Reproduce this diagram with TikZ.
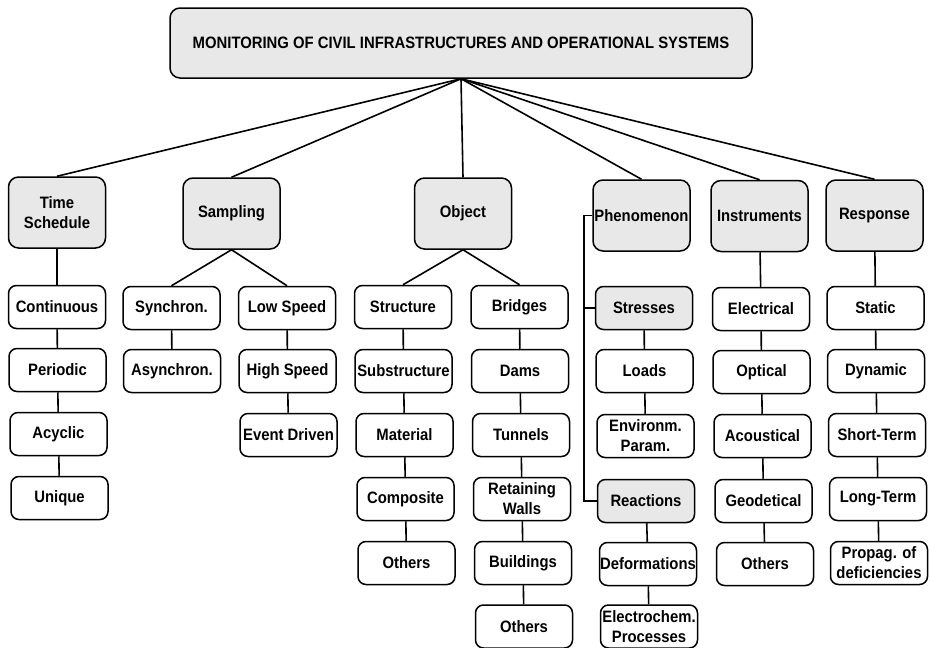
\documentclass[tikz,border=0pt]{standalone}
\usepackage{fontspec}
\setmainfont{Liberation Sans}[FakeStretch=0.9]
\begin{document}
\begin{tikzpicture}[x=1pt,y=-1pt,
  every node/.style={font=\fontsize{16.5}{20}\selectfont\bfseries, align=center, inner sep=0pt},
  leaf/.style={draw, line width=1.5pt, rounded corners=8pt, minimum width=97pt, minimum height=43pt},
  graybox/.style={leaf, fill=boxgray},
  head/.style={draw, line width=1.5pt, fill=boxgray, rounded corners=10pt, minimum width=97pt, minimum height=71pt},
  link/.style={line width=1.6pt}]
\definecolor{boxgray}{RGB}{232,232,232}
\useasboundingbox (0,0) rectangle (930,648);
% root
\node[head, minimum width=582pt, minimum height=70pt] (root) at (461,43) {MONITORING OF CIVIL INFRASTRUCTURES AND OPERATIONAL SYSTEMS};
% heads
\node[head] (time) at (57,212.5) {Time\\Schedule};
\node[head] (samp) at (231.5,213.5) {Sampling};
\node[head] (obj) at (463,213.5) {Object};
\node[head] (phen) at (641.5,215.5) {Phenomenon};
\node[head] (instr) at (759.5,216) {Instruments};
\node[head] (resp) at (874.5,215.5) {Response};
% time schedule
\node[leaf] (cont) at (57,307) {Continuous};
\node[leaf] (peri) at (57.5,370) {Periodic};
\node[leaf] (acyc) at (58.5,434) {Acyclic};
\node[leaf] (uniq) at (59.5,498) {Unique};
% sampling
\node[leaf] (sync) at (171.5,308) {Synchron.};
\node[leaf] (async) at (172,371) {Asynchron.};
\node[leaf] (low) at (287,308) {Low Speed};
\node[leaf] (high) at (287.5,371) {High Speed};
\node[leaf] (event) at (288.5,435) {Event Driven};
% object
\node[leaf] (struc) at (403,307) {Structure};
\node[leaf] (subs) at (403.5,371) {Substructure};
\node[leaf] (mat) at (404.5,435) {Material};
\node[leaf] (comp) at (405.5,499) {Composite};
\node[leaf] (oth1) at (406.5,563) {Others};
\node[leaf] (bridg) at (519.5,307) {Bridges};
\node[leaf] (dams) at (520,371) {Dams};
\node[leaf] (tunn) at (521,435) {Tunnels};
\node[leaf] (retw) at (522,499) {Retaining\\Walls};
\node[leaf] (build) at (523,563) {Buildings};
\node[leaf] (oth2) at (524,626.5) {Others};
% phenomenon
\node[graybox] (stress) at (644,308) {Stresses};
\node[leaf] (loads) at (644.5,371) {Loads};
\node[leaf] (envir) at (645.5,436) {Environm.\\Param.};
\node[graybox] (react) at (646,501) {Reactions};
\node[leaf] (deform) at (648,564) {Deformations};
\node[leaf] (electro) at (649,626.5) {Electrochem.\\Processes};
% instruments
\node[leaf] (elec) at (761,309) {Electrical};
\node[leaf] (opt) at (761.5,372) {Optical};
\node[leaf] (acou) at (762.5,436) {Acoustical};
\node[leaf] (geod) at (763.5,501) {Geodetical};
\node[leaf] (oth3) at (765,564) {Others};
% response
\node[leaf] (stat) at (875.5,308) {Static};
\node[leaf] (dyn) at (876,371) {Dynamic};
\node[leaf] (short) at (877,435) {Short-Term};
\node[leaf] (long) at (878,499) {Long-Term};
\node[leaf] (prop) at (879,563) {Propag. of\\deficiencies};
% root links
\foreach \h in {time,samp,obj,phen,instr,resp}
  \draw[link] (root.south) -- (\h.north);
% chains
\draw[link] (time) -- (cont) -- (peri) -- (acyc) -- (uniq);
\draw[link] (samp.south) -- (sync.north);
\draw[link] (samp.south) -- (low.north);
\draw[link] (sync) -- (async);
\draw[link] (low) -- (high) -- (event);
\draw[link] (obj.south) -- (struc.north);
\draw[link] (obj.south) -- (bridg.north);
\draw[link] (struc) -- (subs) -- (mat) -- (comp) -- (oth1);
\draw[link] (bridg) -- (dams) -- (tunn) -- (retw) -- (build) -- (oth2);
\draw[link] (stress) -- (loads) -- (envir);
\draw[link] (react) -- (deform) -- (electro);
\draw[link] (instr) -- (elec) -- (opt) -- (acou) -- (geod) -- (oth3);
\draw[link] (resp) -- (stat) -- (dyn) -- (short) -- (long) -- (prop);
% phenomenon bracket
\coordinate (bus) at (584,0);
\draw[link] (phen.west) -- (phen.west -| bus) -- (react.west -| bus) -- (react.west);
\draw[link] (stress.west -| bus) -- (stress.west);
\end{tikzpicture}
\end{document}
